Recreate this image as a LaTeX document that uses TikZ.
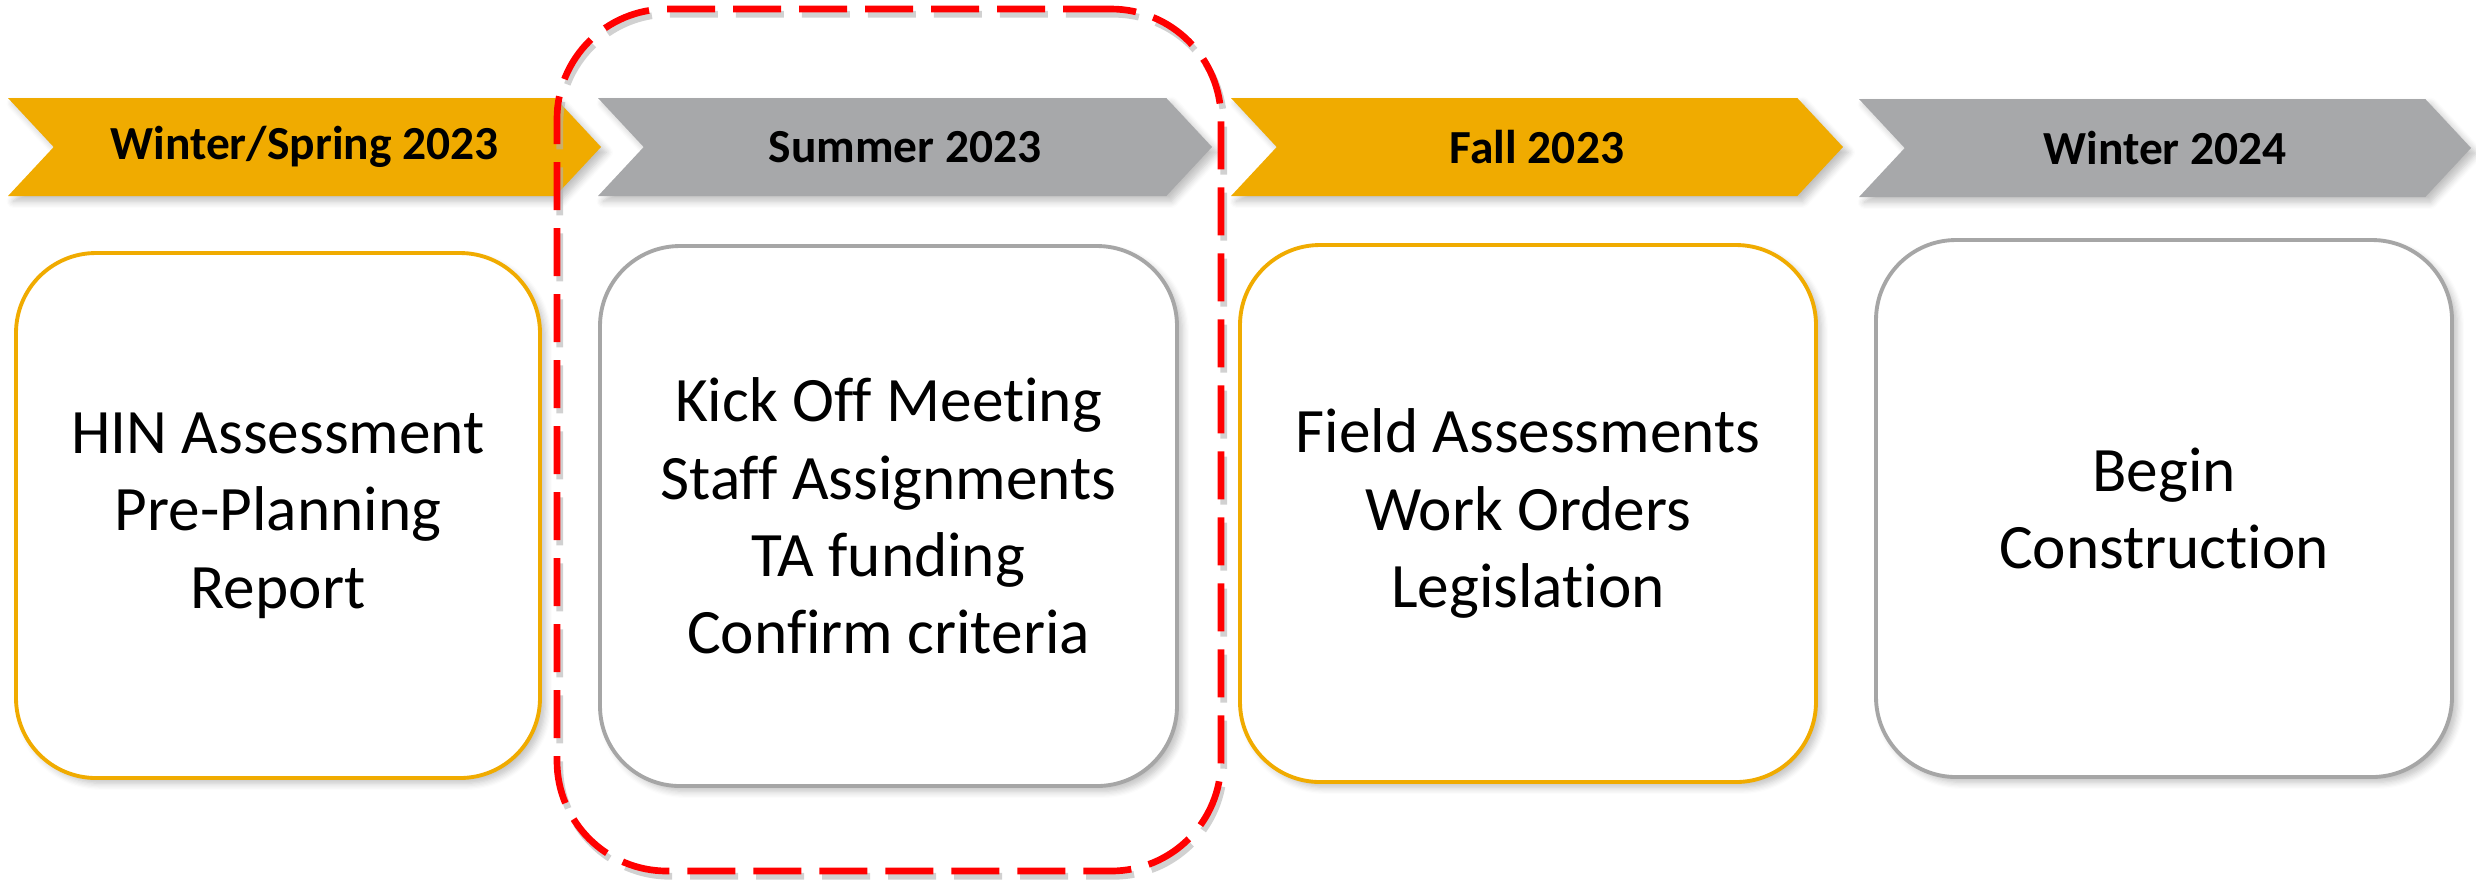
\documentclass[tikz,border=0pt]{standalone}
\usepackage{fontspec}
\setmainfont{Carlito}[Ligatures=CommonOff]
\usetikzlibrary{shapes.symbols,shadows.blur}
\definecolor{amber}{RGB}{240,171,0}
\definecolor{ash}{RGB}{167,168,170}
\definecolor{rim}{RGB}{166,166,166}
\begin{document}
\begin{tikzpicture}
[phase/.style={signal,signal from=west,signal to=east,signal pointer angle=94,
  minimum height=0.98cm,inner sep=0pt,
  blur shadow={shadow xshift=1.5pt,shadow yshift=-1.5pt,shadow opacity=25,shadow blur steps=6},
  font=\bfseries\fontsize{13.5}{16}\selectfont},
task/.style={rounded corners=0.8cm,fill=white,line width=1.1pt,align=center,inner sep=0pt,
  blur shadow={shadow xshift=1.5pt,shadow yshift=-1.5pt,shadow opacity=25,shadow blur steps=6},
  font=\fontsize{18}{22}\selectfont}]
\useasboundingbox (0,0) rectangle (24.76,-8.79);
% phases along the top
\node[phase,fill=amber,minimum width=5.93cm] (p1) at (3.045,-1.47) {Winter/Spring 2023};
\node[phase,fill=ash,minimum width=6.14cm] (p2) at (9.05,-1.47) {Summer 2023};
\node[phase,fill=amber,minimum width=6.12cm] (p3) at (15.37,-1.47) {Fall 2023};
\node[phase,fill=ash,minimum width=6.12cm] (p4) at (21.65,-1.48) {Winter 2024};
% what happens in each phase
\node[task,draw=amber,minimum width=5.24cm,minimum height=5.25cm] (t1) at (2.78,-5.155)
  {HIN Assessment\\Pre-Planning\\Report};
\node[task,draw=rim,minimum width=5.77cm,minimum height=5.4cm] (t2) at (8.885,-5.16)
  {Kick Off Meeting\\Staff Assignments\\TA funding\\Confirm criteria};
\node[task,draw=amber,minimum width=5.76cm,minimum height=5.37cm] (t3) at (15.28,-5.135)
  {Field Assessments\\Work Orders\\Legislation};
\node[task,draw=rim,minimum width=5.76cm,minimum height=5.37cm] (t4) at (21.64,-5.085)
  {Begin\\Construction};
% current phase
\node[draw=red,line width=1.9pt,dash pattern=on 0.48cm off 0.18cm,rounded corners=1.1cm,
  preaction={draw=black!30,opacity=0.6,transform canvas={xshift=0.8pt,yshift=-1.5pt}},
  minimum width=6.64cm,minimum height=8.62cm] (now) at (8.89,-4.40) {};
\end{tikzpicture}
\end{document}
